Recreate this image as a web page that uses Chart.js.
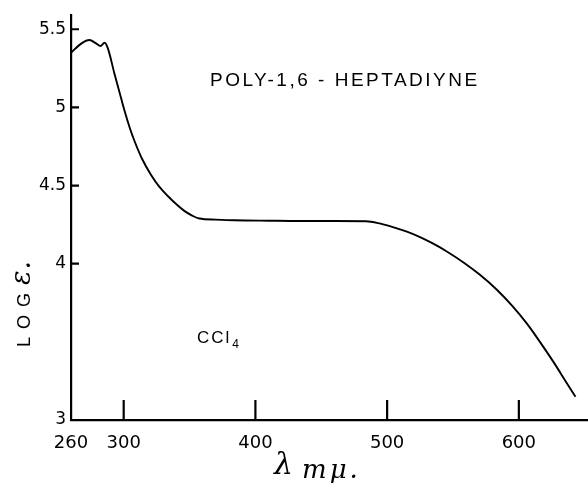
<!DOCTYPE html>
<html>
<head>
<meta charset="utf-8">
<script src="https://cdn.jsdelivr.net/npm/chart.js@4.4.1/dist/chart.umd.min.js"></script>
<style>
  html, body { margin: 0; padding: 0; background: #fff; }
  #wrap { width: 588px; height: 483px; position: relative; }
  canvas { display: block; }
</style>
</head>
<body>
<div id="wrap"><canvas id="c" width="588" height="483"></canvas></div>
<script>
// ---- data ----
const wavelength = [260, 268, 274, 279, 282.4, 285.5, 288, 293, 298, 300.6, 304.4, 308.2, 314, 320.8, 327, 333.5, 340, 346, 352, 357.4, 370, 384, 410, 435, 460, 484, 495, 505, 515, 525, 535, 545, 558, 570, 583.5, 595, 606, 616, 626, 635, 643];
const logEps =     [5.35, 5.41, 5.431, 5.41, 5.393, 5.414, 5.378, 5.215, 5.06, 4.98, 4.875, 4.785, 4.670, 4.568, 4.493, 4.433, 4.38, 4.338, 4.308, 4.289, 4.282, 4.278, 4.275, 4.273, 4.273, 4.272, 4.256, 4.233, 4.205, 4.170, 4.128, 4.080, 4.008, 3.932, 3.832, 3.730, 3.618, 3.500, 3.375, 3.255, 3.148];
const xTickValues = [260, 300, 400, 500, 600];
const yTickValues = [3, 4, 4.5, 5, 5.5];
const titleText = "POLY-1,6 - HEPTADIYNE";
const solventText = "CCl";
const solventSub = "4";
const yTitleText = "LOG";
const yTitleSym = "\u03B5.";
const xTitleSym = "\u03BB";
const xTitleUnit = "m\u03BC.";

const FONT = "'Liberation Sans', Arial, sans-serif";
const TICKFONT = "'DejaVu Sans', sans-serif";

const decor = {
  id: 'decor',
  afterDraw(chart) {
    const {ctx, chartArea, scales: {x, y}} = chart;
    ctx.save();
    ctx.strokeStyle = '#000';
    ctx.lineWidth = 2.2;
    ctx.beginPath();
    x.ticks.forEach(t => {
      if (t.value === x.min) return;
      const px = x.getPixelForValue(t.value);
      ctx.moveTo(px, chartArea.bottom);
      ctx.lineTo(px, chartArea.bottom - 20);
    });
    y.ticks.forEach(t => {
      if (t.value === y.min) return;
      const py = y.getPixelForValue(t.value);
      ctx.moveTo(chartArea.left, py);
      ctx.lineTo(chartArea.left + 8, py);
    });
    ctx.stroke();

    ctx.fillStyle = '#000';
    ctx.textBaseline = 'alphabetic';
    ctx.textAlign = 'left';
    // title
    ctx.font = "19px " + FONT;
    ctx.letterSpacing = '2.5px';
    ctx.fillText(titleText, 210, 86);
    // solvent
    ctx.font = "17px " + FONT;
    ctx.letterSpacing = '2px';
    ctx.fillText(solventText, 197, 343);
    const w = ctx.measureText(solventText).width;
    ctx.font = "12px " + FONT;
    ctx.letterSpacing = '0px';
    ctx.fillText(solventSub, 197 + w + 1, 348);

    // y title, rotated
    ctx.save();
    ctx.translate(24, 300);
    ctx.rotate(-Math.PI / 2);
    ctx.font = "18px " + FONT;
    ctx.letterSpacing = '8px';
    ctx.fillText(yTitleText, -47, 6);
    ctx.letterSpacing = '1px';
    ctx.font = "italic 27px 'DejaVu Serif', serif";
    ctx.fillText(yTitleSym, 15, 6);
    ctx.restore();

    // x title
    ctx.letterSpacing = '0px';
    ctx.font = "italic 30px 'DejaVu Serif', serif";
    ctx.fillText(xTitleSym, 274, 474);
    ctx.letterSpacing = '3px';
    ctx.font = "italic 26px 'DejaVu Serif', serif";
    ctx.fillText(xTitleUnit, 302, 478);
    ctx.restore();
  }
};

new Chart(document.getElementById('c'), {
  type: 'line',
  data: {
    datasets: [{
      data: wavelength.map((v, i) => ({x: v, y: logEps[i]})),
      borderColor: '#000',
      borderWidth: 1.9,
      pointRadius: 0,
      fill: false,
      cubicInterpolationMode: 'monotone'
    }]
  },
  options: {
    responsive: false,
    animation: false,
    devicePixelRatio: 1,
    layout: { padding: { top: 13, left: 0, right: 0, bottom: 0 } },
    plugins: { legend: { display: false }, tooltip: { enabled: false }, title: { display: false } },
    scales: {
      x: {
        type: 'linear',
        min: 260,
        max: 652.5,
        afterBuildTicks: s => { s.ticks = xTickValues.map(v => ({value: v})); },
        afterFit: s => { s.height = 63; },
        grid: { drawOnChartArea: false, drawTicks: false },
        border: { display: true, color: '#000', width: 2.2 },
        ticks: { color: '#000', font: { family: TICKFONT, size: 18 }, padding: 13, maxRotation: 0, autoSkip: false, callback: v => String(v) }
      },
      y: {
        type: 'linear',
        min: 3,
        max: 5.59,
        afterBuildTicks: s => { s.ticks = yTickValues.map(v => ({value: v})); },
        afterFit: s => { s.width = 71; },
        grid: { drawOnChartArea: false, drawTicks: false },
        border: { display: true, color: '#000', width: 2.2 },
        ticks: { color: '#000', font: { family: TICKFONT, size: 17 }, padding: 5, autoSkip: false, callback: v => String(v) }
      }
    }
  },
  plugins: [decor]
});
</script>
</body>
</html>
